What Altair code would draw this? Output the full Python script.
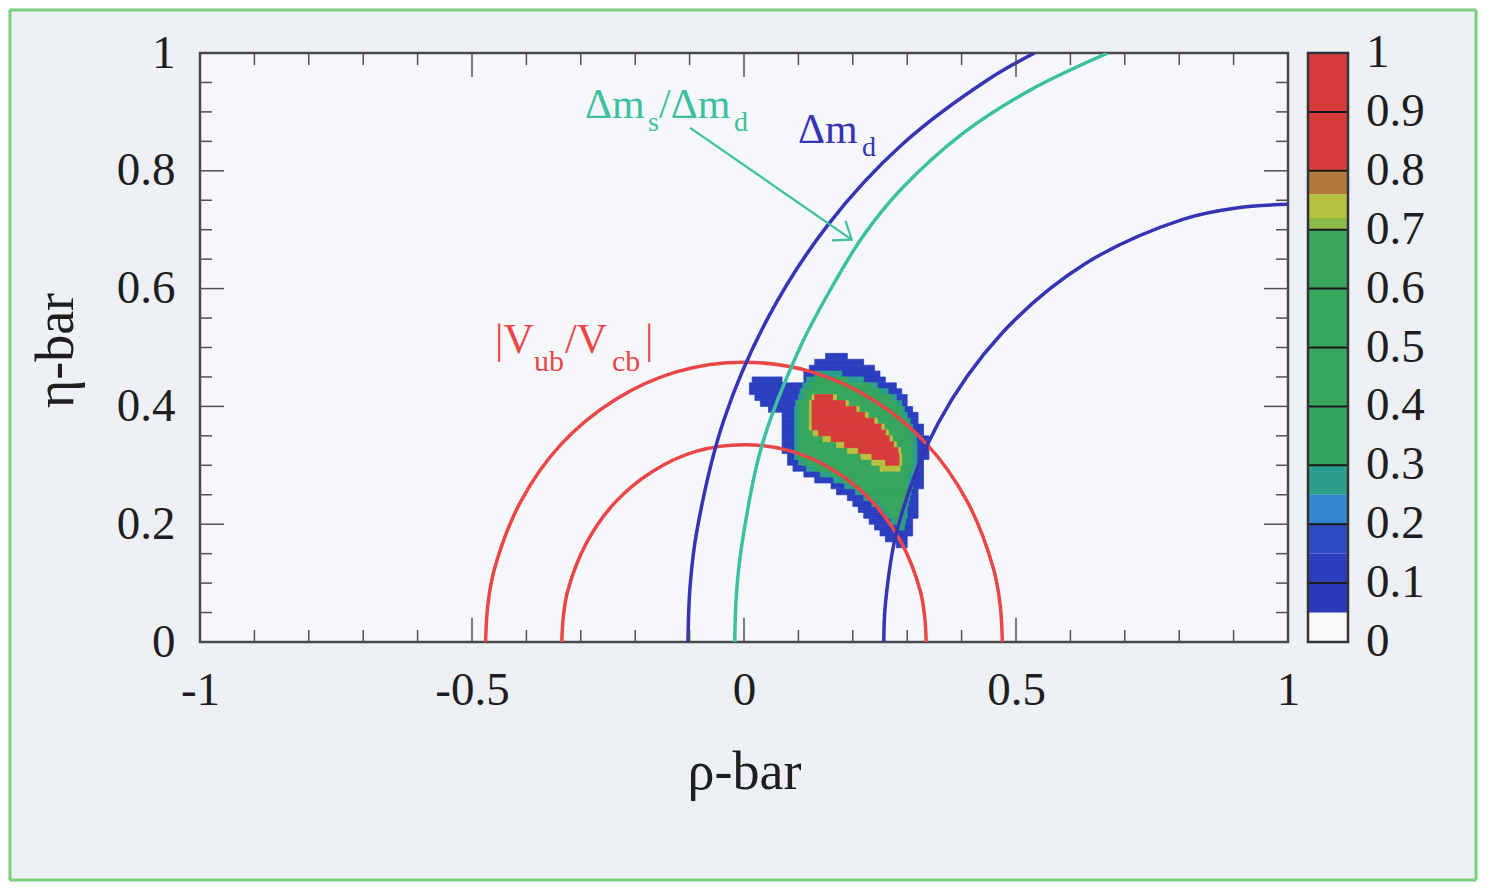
import altair as alt
import pandas as pd

FONT = "Liberation Serif"
W, H = 1088, 589

# ---------------- axis ticks / labels ----------------
X_LABELS = [-1, -0.5, 0, 0.5, 1]
Y_LABELS = [0, 0.2, 0.4, 0.6, 0.8, 1]
X_MINOR = [-0.9, -0.8, -0.7, -0.6, -0.4, -0.3, -0.2, -0.1, 0.1, 0.2, 0.3, 0.4, 0.6, 0.7, 0.8, 0.9]
X_MAJOR = [-0.5, 0, 0.5]
Y_MINOR = [0.05, 0.1, 0.15, 0.25, 0.3, 0.35, 0.45, 0.5, 0.55, 0.65, 0.7, 0.75, 0.85, 0.9, 0.95]
Y_MAJOR = [0.2, 0.4, 0.6, 0.8]

# ---------------- constraint curves ----------------
VUB_OUT_RHO = [-0.475, -0.471, -0.459, -0.411, -0.336, -0.2375, -0.123, 0, 0.123, 0.2375, 0.336, 0.411, 0.459, 0.471, 0.475]
VUB_OUT_ETA = [0, 0.062, 0.123, 0.2375, 0.336, 0.411, 0.459, 0.475, 0.459, 0.411, 0.336, 0.2375, 0.123, 0.062, 0]
VUB_IN_RHO = [-0.335, -0.332, -0.324, -0.29, -0.237, -0.1675, -0.087, 0, 0.087, 0.1675, 0.237, 0.29, 0.324, 0.332, 0.335]
VUB_IN_ETA = [0, 0.044, 0.087, 0.1675, 0.237, 0.29, 0.324, 0.335, 0.324, 0.29, 0.237, 0.1675, 0.087, 0.044, 0]
DMD_OUT_RHO = [-0.103, -0.099, -0.086, -0.037, 0.045, 0.155, 0.291, 0.449, 0.534]
DMD_OUT_ETA = [0, 0.096, 0.192, 0.377, 0.552, 0.709, 0.845, 0.955, 1.0]
DMD_IN_RHO = [0.257, 0.260, 0.282, 0.357, 0.475, 0.6285, 0.808, 0.905, 1.0]
DMD_IN_ETA = [0, 0.065, 0.192, 0.3715, 0.525, 0.643, 0.718, 0.737, 0.743]
DMS_RHO = [-0.017, -0.014, -0.004, 0.033, 0.103, 0.16, 0.218, 0.287, 0.403, 0.526, 0.669]
DMS_ETA = [0, 0.08, 0.165, 0.334, 0.5, 0.6, 0.688, 0.767, 0.864, 0.937, 1.0]

ARROW_RHO = [-0.099, 0.198]
ARROW_ETA = [0.873, 0.683]

# ---------------- probability region: rows (eta_lo, rho_lo, rho_hi) ----------------
ROW_STEP = 0.01
BLUE_ROWS = [
    (0.16, 0.28, 0.30), (0.17, 0.26, 0.30), (0.18, 0.25, 0.31), (0.19, 0.24, 0.31),
    (0.20, 0.23, 0.31), (0.21, 0.22, 0.32), (0.22, 0.21, 0.32), (0.23, 0.20, 0.32),
    (0.24, 0.19, 0.32), (0.25, 0.17, 0.32), (0.26, 0.16, 0.33), (0.27, 0.13, 0.33),
    (0.28, 0.11, 0.33), (0.29, 0.09, 0.33), (0.30, 0.08, 0.33), (0.31, 0.08, 0.34),
    (0.32, 0.07, 0.34), (0.33, 0.07, 0.34), (0.34, 0.07, 0.34), (0.35, 0.07, 0.33),
    (0.36, 0.07, 0.33), (0.37, 0.07, 0.32), (0.38, 0.07, 0.32), (0.39, 0.045, 0.31),
    (0.40, 0.03, 0.30), (0.41, 0.02, 0.30), (0.42, 0.01, 0.29), (0.43, 0.01, 0.28),
    (0.44, 0.015, 0.07), (0.44, 0.11, 0.26), (0.45, 0.11, 0.25), (0.46, 0.12, 0.24),
    (0.47, 0.13, 0.22), (0.48, 0.15, 0.19),
]
TEAL_ROWS = [
    (0.19, 0.28, 0.295), (0.20, 0.27, 0.297), (0.21, 0.26, 0.30), (0.22, 0.25, 0.30),
    (0.23, 0.235, 0.302), (0.24, 0.22, 0.305), (0.25, 0.205, 0.307), (0.26, 0.185, 0.31),
    (0.27, 0.165, 0.312), (0.28, 0.14, 0.314), (0.29, 0.115, 0.316), (0.30, 0.10, 0.318),
    (0.31, 0.093, 0.318), (0.32, 0.093, 0.318), (0.33, 0.093, 0.318), (0.34, 0.093, 0.317),
    (0.35, 0.093, 0.315), (0.36, 0.093, 0.31), (0.37, 0.093, 0.306), (0.38, 0.093, 0.30),
    (0.39, 0.093, 0.295), (0.40, 0.095, 0.29), (0.41, 0.10, 0.28), (0.42, 0.103, 0.265),
    (0.43, 0.108, 0.245), (0.44, 0.115, 0.22), (0.45, 0.13, 0.18),
]
GREEN_ROWS = [
    (0.20, 0.28, 0.29), (0.21, 0.27, 0.29), (0.22, 0.26, 0.29), (0.23, 0.25, 0.29),
    (0.24, 0.23, 0.30), (0.25, 0.22, 0.30), (0.26, 0.20, 0.30), (0.27, 0.18, 0.30),
    (0.28, 0.16, 0.30), (0.29, 0.13, 0.31), (0.30, 0.11, 0.31), (0.31, 0.10, 0.31),
    (0.32, 0.10, 0.31), (0.33, 0.10, 0.31), (0.34, 0.10, 0.31), (0.35, 0.10, 0.305),
    (0.36, 0.10, 0.30), (0.37, 0.10, 0.30), (0.38, 0.10, 0.29), (0.39, 0.10, 0.29),
    (0.40, 0.10, 0.28), (0.41, 0.11, 0.27), (0.42, 0.11, 0.25), (0.43, 0.12, 0.23),
    (0.44, 0.13, 0.19),
]
YELLOW_ROWS = [
    (0.29, 0.25, 0.287), (0.30, 0.235, 0.29), (0.31, 0.215, 0.29), (0.32, 0.19, 0.288),
    (0.33, 0.17, 0.28), (0.34, 0.145, 0.273), (0.35, 0.127, 0.266), (0.36, 0.12, 0.258),
    (0.37, 0.12, 0.245), (0.38, 0.12, 0.228), (0.39, 0.12, 0.212), (0.40, 0.12, 0.192),
    (0.41, 0.125, 0.17),
]
RED_ROWS = [
    (0.30, 0.26, 0.285), (0.31, 0.235, 0.285), (0.32, 0.21, 0.283), (0.33, 0.185, 0.275),
    (0.34, 0.16, 0.267), (0.35, 0.137, 0.26), (0.36, 0.125, 0.252), (0.37, 0.125, 0.239),
    (0.38, 0.125, 0.222), (0.39, 0.125, 0.206), (0.40, 0.125, 0.186), (0.41, 0.13, 0.163),
]
REGION_LEVELS = [0.12, 0.27, 0.5, 0.74, 0.9]

# ---------------- colour bar ----------------
CBAR_EDGES = [0, 0.05, 0.1, 0.15, 0.2, 0.25, 0.3, 0.4, 0.5, 0.6, 0.7, 0.72, 0.76, 0.8, 0.9, 1.0]
CBAR_LINES = [0.1, 0.2, 0.3, 0.4, 0.5, 0.6, 0.7, 0.8, 0.9]
CBAR_TICKS = [0, 0.1, 0.2, 0.3, 0.4, 0.5, 0.6, 0.7, 0.8, 0.9, 1.0]
CBAR_TEXT = ["0", "0.1", "0.2", "0.3", "0.4", "0.5", "0.6", "0.7", "0.8", "0.9", "1"]

# ---------------- build tables ----------------
region = []
for lvl, rows in zip(REGION_LEVELS, [BLUE_ROWS, TEAL_ROWS, GREEN_ROWS, YELLOW_ROWS, RED_ROWS]):
    for e, a, b in rows:
        region.append({"rho": a, "rho2": b, "eta": e, "eta2": round(e + ROW_STEP, 4), "val": lvl})
region_df = pd.DataFrame(region)

cbar_df = pd.DataFrame({"lo": CBAR_EDGES[:-1], "hi": CBAR_EDGES[1:], "val": CBAR_EDGES[:-1]})
cline_df = pd.DataFrame({"v": CBAR_LINES})
ctext_df = pd.DataFrame({"v": CBAR_TICKS, "t": CBAR_TEXT})
one = pd.DataFrame({"k": [0]})


def curve_df(r, e):
    return pd.DataFrame({"rho": r, "eta": e, "i": list(range(len(r)))})


XS = alt.Scale(domain=[-1, 1], nice=False, zero=False)
YS = alt.Scale(domain=[0, 1], nice=False, zero=False)
XAX = alt.Axis(values=X_LABELS, labelExpr="toString(datum.value)", ticks=False, tickSize=0,
               domain=False, grid=False, labelFont=FONT, labelFontSize=47, labelColor="#1e1e1e",
               labelPadding=48, labelBaseline="middle", labelFlush=False, labelOverlap=False,
               title="ρ-bar", titleFont=FONT, titleFontSize=54, titleFontWeight="normal",
               titleColor="#1e1e1e", titleY=146, titleBaseline="alphabetic")
YAX = alt.Axis(values=Y_LABELS, labelExpr="toString(datum.value)", ticks=False, tickSize=0,
               domain=False, grid=False, labelFont=FONT, labelFontSize=47, labelColor="#1e1e1e",
               labelPadding=25, labelBaseline="middle", labelFlush=False, labelOverlap=False,
               title="η-bar", titleFont=FONT, titleFontSize=54, titleFontWeight="normal",
               titleColor="#1e1e1e", titleX=-128, titleY=297, titleAngle=270,
               titleAlign="center", titleBaseline="alphabetic")


def xq(f):
    return alt.X(f, type="quantitative", scale=XS, axis=XAX)


def yq(f):
    return alt.Y(f, type="quantitative", scale=YS, axis=YAX)


CSCALE = alt.Scale(type="threshold",
                   domain=[0.05, 0.1, 0.15, 0.2, 0.25, 0.3, 0.4, 0.5, 0.6, 0.7, 0.72, 0.76, 0.8],
                   range=["#f8f8f8", "#2a39bb", "#2b3fbf", "#2f4bc4", "#3386cf", "#2c9f8c",
                          "#36a462", "#37a760", "#38a65e", "#3aa65c", "#8cba46", "#b8c040",
                          "#b27a3a", "#d63c3c"])

layers = []

# probability region
layers.append(
    alt.Chart(region_df).mark_rect(strokeWidth=0.7).encode(
        x=xq("rho"), x2="rho2", y=yq("eta"), y2="eta2",
        color=alt.Color("val:Q", scale=CSCALE, legend=None),
        stroke=alt.Stroke("val:Q", scale=CSCALE, legend=None),
    )
)

# curves
for r, e, col in [
    (VUB_OUT_RHO, VUB_OUT_ETA, "#ea4646"),
    (VUB_IN_RHO, VUB_IN_ETA, "#ea4646"),
    (DMD_OUT_RHO, DMD_OUT_ETA, "#3434b4"),
    (DMD_IN_RHO, DMD_IN_ETA, "#3434b4"),
    (DMS_RHO, DMS_ETA, "#3cc0a0"),
]:
    layers.append(
        alt.Chart(curve_df(r, e)).mark_line(color=col, strokeWidth=3.5, interpolate="catmull-rom",
                                           clip=True).encode(
            x=xq("rho"), y=yq("eta"), order="i:Q"
        )
    )

# arrow
arrow_df = pd.DataFrame({"rho": ARROW_RHO, "eta": ARROW_ETA, "i": [0, 1]})
layers.append(
    alt.Chart(arrow_df).mark_line(color="#3cc0a0", strokeWidth=2.2).encode(
        x=xq("rho"), y=yq("eta"), order="i:Q")
)
layers.append(
    alt.Chart(arrow_df.iloc[[1]]).mark_point(
        shape="M-1,-0.75L0,0L-1,0.75", angle=35, size=1000, filled=False,
        color="#3cc0a0", strokeWidth=2.2, opacity=1).encode(x=xq("rho"), y=yq("eta"))
)


def txt(s, x, y, size, color):
    return alt.Chart(one).mark_text(text=s, align="left", baseline="alphabetic", font=FONT,
                                    fontSize=size, color=color).encode(x=alt.value(x), y=alt.value(y))


CY, BL, RD = "#3cc0a0", "#3434b4", "#ea4646"
layers += [
    txt("Δm", 385, 65, 42, CY), txt("s", 448, 78, 28, CY), txt("/Δm", 459, 65, 42, CY), txt("d", 534, 78, 28, CY),
    txt("Δm", 598, 90, 42, BL), txt("d", 662, 103, 28, BL),
    txt("|V", 295, 300, 42, RD), txt("ub", 334, 318, 30, RD), txt("/V", 365, 300, 42, RD),
    txt("cb", 412, 318, 30, RD), txt("|", 445, 300, 42, RD),
]

# inward ticks on all four sides
TICK = "#505050"
for vals, ln in [(X_MINOR, 12), (X_MAJOR, 24)]:
    d = pd.DataFrame({"v": vals})
    layers.append(alt.Chart(d).mark_rule(color=TICK, strokeWidth=1.5).encode(
        x=xq("v"), y=alt.value(H), y2=alt.value(H - ln)))
    layers.append(alt.Chart(d).mark_rule(color=TICK, strokeWidth=1.5).encode(
        x=xq("v"), y=alt.value(0), y2=alt.value(ln)))
for vals, ln in [(Y_MINOR, 12), (Y_MAJOR, 24)]:
    d = pd.DataFrame({"v": vals})
    layers.append(alt.Chart(d).mark_rule(color=TICK, strokeWidth=1.5).encode(
        y=yq("v"), x=alt.value(0), x2=alt.value(ln)))
    layers.append(alt.Chart(d).mark_rule(color=TICK, strokeWidth=1.5).encode(
        y=yq("v"), x=alt.value(W), x2=alt.value(W - ln)))

# colour bar
CBX0, CBX1 = 1108, 1148
layers.append(
    alt.Chart(cbar_df).mark_rect().encode(
        x=alt.value(CBX0), x2=alt.value(CBX1), y=yq("lo"), y2="hi",
        color=alt.Color("val:Q", scale=CSCALE, legend=None))
)
layers.append(
    alt.Chart(cline_df).mark_rule(color="#1a1a1a", strokeWidth=2).encode(
        y=yq("v"), x=alt.value(CBX0), x2=alt.value(CBX1))
)
layers.append(
    alt.Chart(one).mark_rect(fillOpacity=0, stroke="#333333", strokeWidth=2.5).encode(
        x=alt.value(CBX0), x2=alt.value(CBX1), y=alt.value(0), y2=alt.value(H))
)
layers.append(
    alt.Chart(ctext_df).mark_text(align="left", baseline="middle", font=FONT, fontSize=47,
                                  color="#1e1e1e").encode(
        x=alt.value(1166), y=yq("v"), text="t:N")
)

# outer green frame
FR = "#7ccf7c"
for xa, xb, ya, yb in [(-190, 1276, -43, -43), (-190, 1276, 827, 827),
                       (-190, -190, -43, 827), (1276, 1276, -43, 827)]:
    layers.append(alt.Chart(one).mark_rule(color=FR, strokeWidth=3).encode(
        x=alt.value(xa), x2=alt.value(xb), y=alt.value(ya), y2=alt.value(yb)))

chart = alt.layer(*layers).properties(
    width=W, height=H,
    autosize=alt.AutoSizeParams(type="none"),
    padding={"left": 192, "top": 45, "right": 190, "bottom": 240},
    background="#edf1f6",
).configure_view(stroke="#4a4a4a", strokeWidth=2.5, fill="#f5f7fb")

chart.save("out.html", embed_options={"renderer": "svg", "actions": False})
